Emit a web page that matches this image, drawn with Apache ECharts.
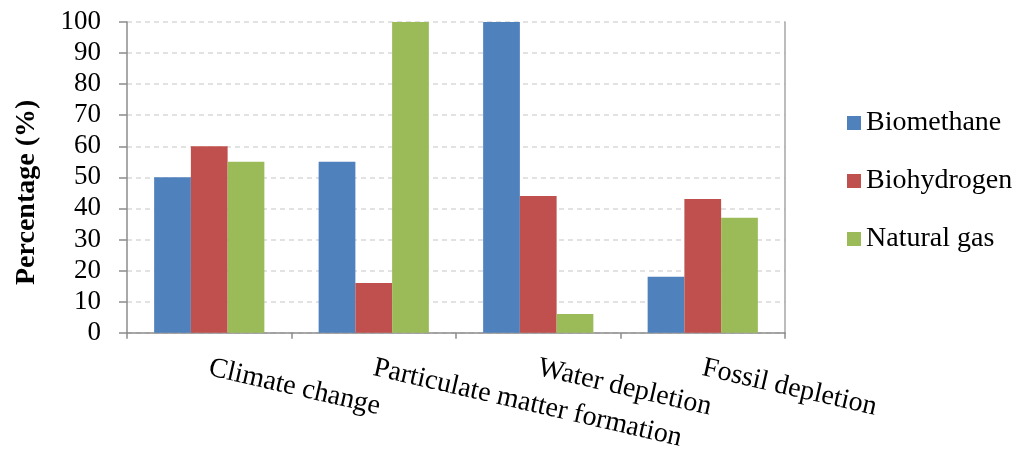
<!DOCTYPE html>
<html>
<head>
<meta charset="utf-8">
<script src="https://cdn.jsdelivr.net/npm/echarts@6/dist/echarts.min.js"></script>
<style>html,body{margin:0;padding:0;background:#fff;}#c{width:1021px;height:453px;}</style>
</head>
<body>
<div id="c"></div>
<script>
const categories = ['Climate change', 'Particulate matter formation', 'Water depletion', 'Fossil depletion'];
const biomethane = [50, 55, 100, 18];
const biohydrogen = [60, 16, 44, 43];
const naturalGas = [55, 100, 6, 37];
const yTicks = [0, 10, 20, 30, 40, 50, 60, 70, 80, 90, 100];

const font = 'Liberation Serif';
const chart = echarts.init(document.getElementById('c'), null, {renderer: 'canvas'});
chart.setOption({
  animation: false,
  backgroundColor: '#ffffff',
  textStyle: {fontFamily: font, color: '#000'},
  grid: {left: 127, right: 236, top: 22, bottom: 120, containLabel: false},
  legend: {
    orient: 'vertical',
    left: 842,
    top: 104,
    itemWidth: 14,
    itemHeight: 14,
    itemGap: 30,
    icon: 'rect',
    textStyle: {fontFamily: font, fontSize: 28, color: '#000'},
    data: ['Biomethane', 'Biohydrogen', 'Natural gas']
  },
  xAxis: {
    type: 'category',
    data: categories,
    axisLine: {lineStyle: {color: '#8c8c8c', width: 1.5}},
    axisTick: {show: true, length: 6, lineStyle: {color: '#8c8c8c', width: 1.5}},
    axisLabel: {rotate: -13, margin: 35, interval: 0, fontFamily: font, fontSize: 28, color: '#000'}
  },
  yAxis: [{
    type: 'value',
    min: yTicks[0],
    max: yTicks[yTicks.length - 1],
    interval: 10,
    name: 'Percentage (%)',
    nameLocation: 'middle',
    nameRotate: 90,
    nameGap: 86,
    nameTextStyle: {fontFamily: font, fontSize: 28, fontWeight: 'bold', color: '#000', padding: [0, 30, 0, 0]},
    axisLine: {show: true, lineStyle: {color: '#8c8c8c', width: 1.5}},
    axisTick: {show: true, length: 8, lineStyle: {color: '#8c8c8c', width: 1.5}},
    axisLabel: {margin: 26, fontFamily: font, fontSize: 27, color: '#000'},
    splitLine: {show: true, lineStyle: {color: '#d9d9d9', type: [5, 4], width: 1.5}}
  }, {
    type: 'value',
    min: 0, max: 100, interval: 10,
    position: 'right',
    axisLine: {show: true, lineStyle: {color: '#a6a6a6', width: 1.5}},
    axisTick: {show: false},
    axisLabel: {show: false},
    splitLine: {show: false}
  }],
  series: [
    {name: 'Biomethane', type: 'bar', data: biomethane, barGap: '0%', barCategoryGap: '33%', itemStyle: {color: '#4F81BD'}},
    {name: 'Biohydrogen', type: 'bar', data: biohydrogen, barGap: '0%', barCategoryGap: '33%', itemStyle: {color: '#C0504D'}},
    {name: 'Natural gas', type: 'bar', data: naturalGas, barGap: '0%', barCategoryGap: '33%', itemStyle: {color: '#9BBB59'}}
  ]
});
</script>
</body>
</html>
